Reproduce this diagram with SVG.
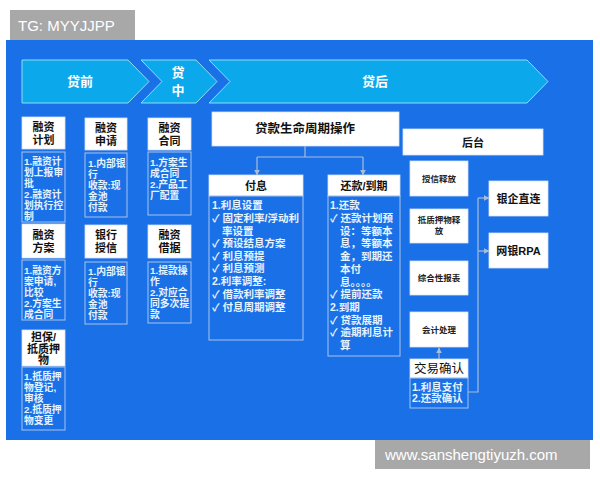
<svg xmlns="http://www.w3.org/2000/svg" width="600" height="480" viewBox="0 0 600 480">
<style>
text{font-family:"Liberation Sans","Noto Sans CJK SC",sans-serif;}
.wb{fill:#ffffff;stroke:#d6e2f5;stroke-width:0.8;}
.db{fill:#1a70e6;stroke:#a9c3ee;stroke-width:1;}
.hd{font-size:11px;fill:#111;text-anchor:middle;font-weight:bold;}
.dt{font-size:9.8px;fill:#e6f4ff;font-weight:bold;}
.dm{font-size:10.5px;fill:#e6f4ff;font-weight:bold;}
.sm{font-size:8.5px;fill:#222;text-anchor:middle;font-weight:bold;}
.chev{fill:#0ca8ec;stroke:#8fdcf7;stroke-width:1;}
.ct{font-size:13px;fill:#ffffff;font-weight:bold;text-anchor:middle;}
.ln{fill:none;stroke:#a9bcd8;stroke-width:1.2;}
.lbl{fill:#a8a8a8;}
.lt{font-family:"Liberation Sans",sans-serif;font-size:15px;fill:#ffffff;}
</style>
<defs>
<marker id="ah" viewBox="0 0 10 10" refX="9" refY="5" markerWidth="5" markerHeight="5" orient="auto">
<path d="M0,0 L10,5 L0,10 z" fill="#a9bcd8"/>
</marker>
</defs>
<rect x="0" y="0" width="600" height="480" fill="#ffffff"/>
<rect x="6" y="40" width="587" height="400" fill="#1a70e6"/>
<g id="tag-top"><rect class="lbl" x="10" y="10" width="125" height="30"/><text class="lt" x="18" y="31">TG: MYYJJPP</text></g>
<g id="tag-bottom"><rect class="lbl" x="375" y="440" width="215" height="29"/><text class="lt" x="385" y="460">www.sanshengtiyuzh.com</text></g>

<g id="phase-pre"><polygon class="chev" points="22,60 128,60 149,81.5 128,103 22,103"/><text class="ct" x="80" y="86">贷前</text></g>
<g id="phase-mid"><polygon class="chev" points="141,60 196,60 217,81.5 196,103 141,103 162,81.5"/><text class="ct" x="178" y="77">贷</text><text class="ct" x="178" y="95">中</text></g>
<g id="phase-post"><polygon class="chev" points="209,60 527,60 548,81.5 527,103 209,103 230,81.5"/><text class="ct" x="375" y="86">贷后</text></g>

<g id="c1-plan"><rect class="wb" x="22" y="117" width="43" height="32"/><text class="hd" x="43.5" y="131">融资</text><text class="hd" x="43.5" y="144">计划</text>
<rect class="db" x="22" y="152" width="43" height="70"/><text class="dt"><tspan x="24" y="165">1.融资计</tspan><tspan x="24" y="176">划上报审</tspan><tspan x="24" y="187">批</tspan><tspan x="24" y="198">2.融资计</tspan><tspan x="24" y="209">划执行控</tspan><tspan x="24" y="220">制</tspan></text></g>

<g id="c1-scheme"><rect class="wb" x="22" y="224" width="43" height="34"/><text class="hd" x="43.5" y="239">融资</text><text class="hd" x="43.5" y="252">方案</text>
<rect class="db" x="22" y="260" width="43" height="60"/><text class="dt"><tspan x="24" y="274">1.融资方</tspan><tspan x="24" y="285">案申请,</tspan><tspan x="24" y="296">比较</tspan><tspan x="24" y="307">2.方案生</tspan><tspan x="24" y="318">成合同</tspan></text></g>

<g id="c1-guarantee"><rect class="wb" x="22" y="330" width="43" height="36"/><text class="hd" font-size="10.2" x="43.5" y="341">担保/</text><text class="hd" font-size="10.2" x="43.5" y="352.5">抵质押</text><text class="hd" font-size="10.2" x="43.5" y="364">物</text>
<rect class="db" x="22" y="367" width="43" height="63"/><text class="dt"><tspan x="24" y="380">1.抵质押</tspan><tspan x="24" y="391">物登记,</tspan><tspan x="24" y="402">审核</tspan><tspan x="24" y="413">2.抵质押</tspan><tspan x="24" y="424">物变更</tspan></text></g>

<g id="c2-apply"><rect class="wb" x="85" y="118" width="42" height="32"/><text class="hd" x="106" y="132">融资</text><text class="hd" x="106" y="145">申请</text>
<rect class="db" x="85" y="153" width="42" height="64"/><text class="dt"><tspan x="88" y="167">1.内部银</tspan><tspan x="88" y="178">行</tspan><tspan x="88" y="189">收款:现</tspan><tspan x="88" y="200">金池</tspan><tspan x="88" y="211">付款</tspan></text></g>

<g id="c2-credit"><rect class="wb" x="85" y="225" width="42" height="33"/><text class="hd" x="106" y="239">银行</text><text class="hd" x="106" y="252">授信</text>
<rect class="db" x="85" y="262" width="42" height="62"/><text class="dt"><tspan x="88" y="275">1.内部银</tspan><tspan x="88" y="286">行</tspan><tspan x="88" y="297">收款:现</tspan><tspan x="88" y="308">金池</tspan><tspan x="88" y="319">付款</tspan></text></g>

<g id="c3-contract"><rect class="wb" x="148" y="118" width="43" height="32"/><text class="hd" x="169.5" y="132">融资</text><text class="hd" x="169.5" y="145">合同</text>
<rect class="db" x="148" y="152" width="43" height="63"/><text class="dt"><tspan x="150" y="166">1.方案生</tspan><tspan x="150" y="177">成合同</tspan><tspan x="150" y="188">2.产品工</tspan><tspan x="150" y="199">厂配置</tspan></text></g>

<g id="c3-draw"><rect class="wb" x="148" y="225" width="43" height="33"/><text class="hd" x="169.5" y="239">融资</text><text class="hd" x="169.5" y="252">借据</text>
<rect class="db" x="148" y="262" width="43" height="61"/><text class="dt"><tspan x="150" y="274">1.提款操</tspan><tspan x="150" y="285">作</tspan><tspan x="150" y="296">2.对应合</tspan><tspan x="150" y="307">同多次提</tspan><tspan x="150" y="318">款</tspan></text></g>

<g id="lifecycle"><rect class="wb" x="212" y="112" width="187" height="34"/><text x="305" y="133" font-size="12.5" fill="#111" text-anchor="middle" font-weight="bold">贷款生命周期操作</text></g>

<g id="interest"><rect class="wb" x="209" y="175" width="94" height="21"/><text class="hd" x="256" y="190" font-size="12">付息</text>
<rect class="db" x="209" y="196" width="94" height="144"/>
<text class="dm"><tspan x="212" y="209">1.利息设置</tspan><tspan x="212" y="222">✓ 固定利率/浮动利</tspan><tspan x="222" y="235">率设置</tspan><tspan x="212" y="247">✓ 预设结息方案</tspan><tspan x="212" y="260">✓ 利息预提</tspan><tspan x="212" y="272">✓ 利息预测</tspan><tspan x="212" y="285">2.利率调整:</tspan><tspan x="212" y="298">✓ 借款利率调整</tspan><tspan x="212" y="311">✓ 付息周期调整</tspan></text></g>

<g id="repay"><rect class="wb" x="328" y="175" width="72" height="21"/><text class="hd" x="364" y="190" font-size="12">还款/到期</text>
<rect class="db" x="328" y="196" width="72" height="160"/>
<text class="dm"><tspan x="330" y="209">1.还款</tspan><tspan x="330" y="222">✓ 还款计划预</tspan><tspan x="340" y="235">设：等额本</tspan><tspan x="340" y="247">息，等额本</tspan><tspan x="340" y="260">金，到期还</tspan><tspan x="340" y="273">本付</tspan><tspan x="340" y="286">息。。。。</tspan><tspan x="330" y="298">✓ 提前还款</tspan><tspan x="330" y="311">2.到期</tspan><tspan x="330" y="324">✓ 贷款展期</tspan><tspan x="330" y="336">✓ 逾期利息计</tspan><tspan x="340" y="349">算</tspan></text></g>

<g id="backend"><rect class="wb" x="403" y="129" width="140" height="26"/><text class="hd" x="473" y="147" font-size="12">后台</text></g>
<g id="release-credit"><rect class="wb" x="410" y="161" width="58" height="35"/><text class="sm" x="439" y="182">授信释放</text></g>
<g id="release-pledge"><rect class="wb" x="410" y="209" width="58" height="34"/><text class="sm" x="439" y="223">抵质押物释</text><text class="sm" x="439" y="234">放</text></g>
<g id="report"><rect class="wb" x="410" y="261" width="58" height="34"/><text class="sm" x="439" y="281">综合性报表</text></g>
<g id="accounting"><rect class="wb" x="410" y="312" width="58" height="35"/><text class="sm" x="439" y="333">会计处理</text></g>
<g id="confirm"><rect class="wb" x="410" y="359" width="58" height="19"/><text x="439" y="373" font-size="12.5" fill="#111" text-anchor="middle">交易确认</text>
<rect class="db" x="410" y="378" width="58" height="30"/><text class="dm" font-size="10"><tspan x="412" y="390.5">1.利息支付</tspan><tspan x="412" y="402">2.还款确认</tspan></text></g>
<g id="bank-direct"><rect class="wb" x="489" y="181" width="59" height="35"/><text class="hd" x="518.5" y="203" font-size="12">银企直连</text></g>
<g id="netbank-rpa"><rect class="wb" x="489" y="233" width="59" height="35"/><text class="hd" x="518.5" y="255" font-size="12">网银RPA</text></g>

<g id="connectors">
<path class="ln" d="M305,146 V157 M257,157 H363"/>
<path class="ln" d="M257,157 V175" marker-end="url(#ah)"/>
<path class="ln" d="M363,157 V175" marker-end="url(#ah)"/>
<path class="ln" d="M439,359 V348" marker-end="url(#ah)"/>
<path class="ln" d="M468,392 H478 V198"/>
<path class="ln" d="M478,198 H489" marker-end="url(#ah)"/>
<path class="ln" d="M478,251 H489" marker-end="url(#ah)"/>
</g>
</svg>
